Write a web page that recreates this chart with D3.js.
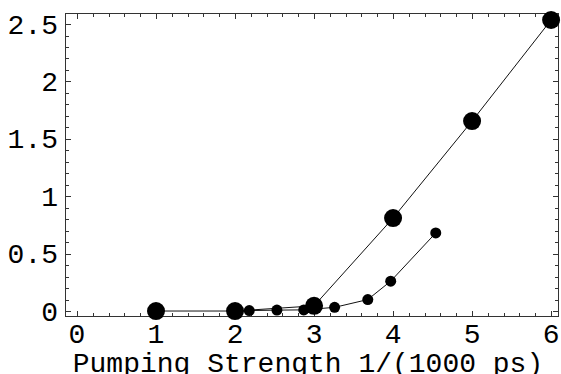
<!DOCTYPE html>
<html>
<head>
<meta charset="utf-8">
<script src="https://cdn.jsdelivr.net/npm/d3@7"></script>
<style>
  body { margin: 0; background: #fff; }
  text { font-family: "Liberation Mono", "DejaVu Sans Mono", monospace; font-size: 28px; fill: #000; }
</style>
</head>
<body>
<div id="plot"></div>
<script>
// large markers: integer pumping strengths
const bigX = [1, 2, 3, 4, 5, 6];
const bigY = [0, 0, 0.045, 0.81, 1.655, 2.535];
// small markers: finer sampling
const smallX = [2.18, 2.53, 2.87, 3.26, 3.68, 3.97, 4.54];
const smallY = [0.004, 0.008, 0.01, 0.032, 0.10, 0.26, 0.68];

const xTicks = [0, 1, 2, 3, 4, 5, 6];
const yTicks = [0, 0.5, 1, 1.5, 2, 2.5];
const xLabel = "Pumping Strength 1/(1000 ps)";

const width = 561, height = 374;
const frame = {left: 65, right: 559, top: 13, bottom: 317};

const svg = d3.select('#plot')
    .append('svg')
    .attr('width', width)
    .attr('height', height);

const x = d3.scaleLinear()
    .domain([-0.152, 6.1])
    .range([frame.left, frame.right]);
const y = d3.scaleLinear()
    .domain([-0.052, 2.596])
    .range([frame.bottom, frame.top]);

// frame
svg.append('rect')
    .attr('x', frame.left + 0.5)
    .attr('y', frame.top + 0.5)
    .attr('width', frame.right - frame.left - 1)
    .attr('height', frame.bottom - frame.top - 1)
    .attr('fill', 'none')
    .attr('stroke', '#333')
    .attr('stroke-width', 1);

// inward ticks on all four sides
const xMinor = d3.range(0, 6.01, 0.2).filter(v => Math.abs(v - Math.round(v)) > 1e-6);
const yMinor = d3.range(0, 2.59, 0.1).filter(v => Math.abs(v * 2 - Math.round(v * 2)) > 1e-6);
const ticks = svg.append('g').attr('stroke', '#333').attr('stroke-width', 1);

function xTickMarks(vals, len)
{
    vals.forEach(v => {
        const px = Math.round(x(v)) + 0.5;
        ticks.append('line').attr('x1', px).attr('x2', px)
            .attr('y1', frame.bottom - 1).attr('y2', frame.bottom - 1 - len);
        ticks.append('line').attr('x1', px).attr('x2', px)
            .attr('y1', frame.top + 1).attr('y2', frame.top + 1 + len);
    });
}

function yTickMarks(vals, len)
{
    vals.forEach(v => {
        const py = Math.round(y(v)) + 0.5;
        ticks.append('line').attr('y1', py).attr('y2', py)
            .attr('x1', frame.left + 1).attr('x2', frame.left + 1 + len);
        ticks.append('line').attr('y1', py).attr('y2', py)
            .attr('x1', frame.right - 1).attr('x2', frame.right - 1 - len);
    });
}

xTickMarks(xTicks, 5);
xTickMarks(xMinor, 3);
yTickMarks(yTicks, 5);
yTickMarks(yMinor, 3);

// tick labels
svg.append('g').selectAll('text')
    .data(xTicks)
    .join('text')
    .attr('x', d => x(d))
    .attr('y', 343)
    .attr('text-anchor', 'middle')
    .text(d => d);

svg.append('g').selectAll('text')
    .data(yTicks)
    .join('text')
    .attr('x', 58)
    .attr('y', d => y(d) + 9.5)
    .attr('text-anchor', 'end')
    .text(d => d);

svg.append('text')
    .attr('x', 308)
    .attr('y', 372)
    .attr('text-anchor', 'middle')
    .text(xLabel);

// series
const big = bigX.map((v, i) => [v, bigY[i]]);
const small = smallX.map((v, i) => [v, smallY[i]]);
const line = d3.line().x(d => x(d[0])).y(d => y(d[1]));

svg.append('path')
    .datum(big)
    .attr('fill', 'none')
    .attr('stroke', '#111')
    .attr('stroke-width', 1)
    .attr('d', line);

svg.append('path')
    .datum(small)
    .attr('fill', 'none')
    .attr('stroke', '#111')
    .attr('stroke-width', 1)
    .attr('d', line);

svg.append('g').selectAll('circle')
    .data(small)
    .join('circle')
    .attr('cx', d => x(d[0]))
    .attr('cy', d => y(d[1]))
    .attr('r', 5.5)
    .attr('fill', '#000');

svg.append('g').selectAll('circle')
    .data(big)
    .join('circle')
    .attr('cx', d => x(d[0]))
    .attr('cy', d => y(d[1]))
    .attr('r', 9)
    .attr('fill', '#000');
</script>
</body>
</html>
